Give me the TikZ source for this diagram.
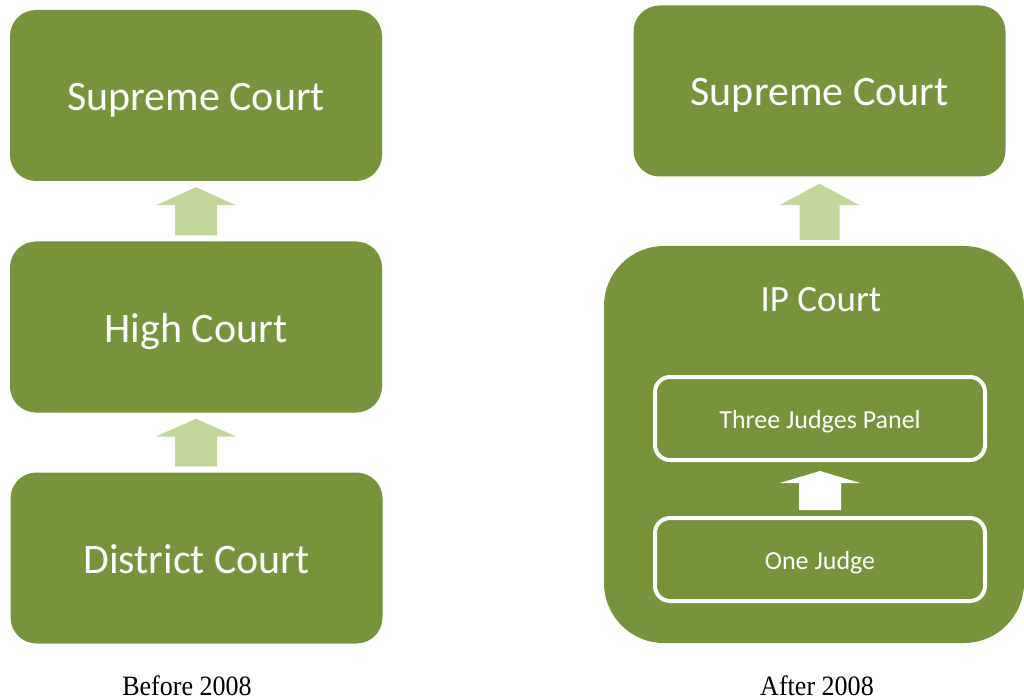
\documentclass[tikz,border=0pt]{standalone}
\usepackage{fontspec}
\setmainfont{Carlito}
\newfontfamily\capfont{Liberation Serif}
\usetikzlibrary{calc}
\definecolor{courtgreen}{HTML}{77933C}
\definecolor{arrowgreen}{HTML}{C3D69B}
\tikzset{
  court/.style={fill=courtgreen, rounded corners=26pt, text=white,
    minimum width=372pt, minimum height=171pt, inner sep=0pt,
    text height=30pt, text depth=0pt,
    font=\fontsize{42}{48}\selectfont},
  bench/.style={draw=white, line width=4pt, rounded corners=15pt, text=white,
    minimum width=330pt, minimum height=83pt, inner sep=0pt,
    text height=19pt, text depth=0pt,
    font=\fontsize{26}{30}\selectfont},
  caption/.style={font=\capfont\fontsize{28}{32}\selectfont, xscale=0.93,
    inner sep=0pt, anchor=base},
}
% block arrow pointing up from node #4 to node #5, fill #2, shaft half width #3,
% gap #1 between the tip and the upper node
\newcommand\blockup[5][7pt]{%
  \fill[#2] let \p1=(#4.north), \p2=(#5.south), \n1={(\y2-\y1)/2} in
    ($(\x2-40pt,\y1+6pt+\n1)$) -- (\x2,\y2-#1) -- (\x2+40pt,\y1+6pt+\n1)
    -- (\x2+#3,\y1+6pt+\n1) -- (\x2+#3,\y1+6pt) -- (\x2-#3,\y1+6pt)
    -- (\x2-#3,\y1+6pt+\n1) -- cycle;}
\begin{document}
\begin{tikzpicture}[x=1pt,y=-1pt]
  \useasboundingbox (0,0) rectangle (1024,700);
  % before 2008
  \node[court] (sup1) at (196,95.5) {Supreme Court};
  \node[court] (high) at (196,327) {High Court};
  \node[court] (dist) at (196.5,558) {District Court};
  \blockup[6pt]{arrowgreen}{21pt}{high}{sup1}
  \blockup[6pt]{arrowgreen}{21pt}{dist}{high}
  \node[caption] (cap1) at (187,695) {Before 2008};
  % after 2008
  \node[court] (sup2) at (819.5,91) {Supreme Court};
  \node[court, rounded corners=60pt, minimum width=420pt, minimum height=397pt] (ip) at (814,444.5) {};
  \node[text=white, font=\fontsize{37}{42}\selectfont, inner sep=0pt, anchor=base] (iplabel) at (821,312) {IP Court};
  \node[bench] (three) at (820,418.5) {Three Judges Panel};
  \node[bench] (one) at (820,559.5) {One Judge};
  \blockup[7pt]{arrowgreen}{20pt}{ip}{sup2}
  \blockup[9pt]{white}{21pt}{one}{three}
  \node[caption] (cap2) at (817,695) {After 2008};
\end{tikzpicture}
\end{document}
